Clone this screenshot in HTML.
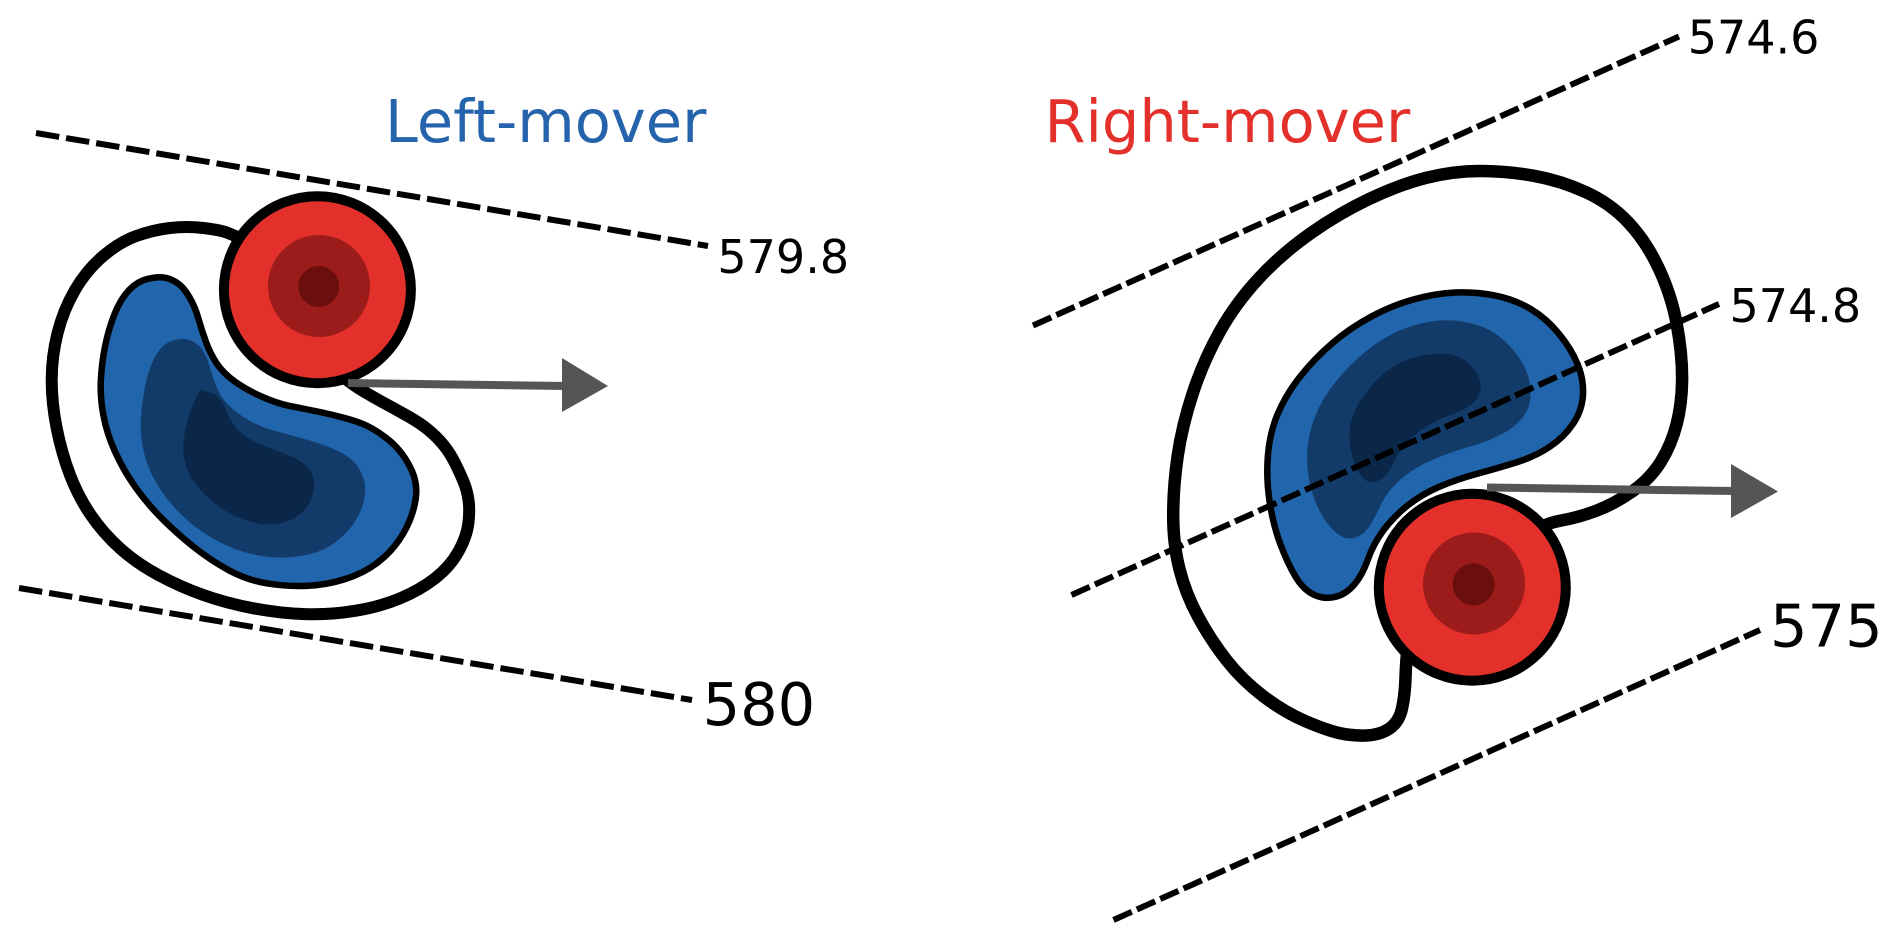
<!DOCTYPE html>
<html>
<head>
<meta charset="utf-8">
<style>
  html, body { margin: 0; padding: 0; background: #ffffff; }
  body { width: 1892px; height: 941px; overflow: hidden; }
  svg { display: block; }
  text { font-family: "DejaVu Sans", "Liberation Sans", sans-serif; }
</style>
</head>
<body>
<svg width="1892" height="941" viewBox="0 0 1892 941">
  <rect x="0" y="0" width="1892" height="941" fill="#ffffff"/>

  <!-- ================= LEFT PANEL ================= -->
  <path fill="none" stroke="#000" stroke-width="12" stroke-linejoin="round" stroke-linecap="round"
    d="M255,245 L244,240 Q233.3,235 226.65,232.5 Q220,230 203.35,228 Q186.7,226 170,228 Q153.3,230 136.65,235.85 Q120,241.7 103.35,255.85 Q86.7,270 75,290 Q63.3,310 57.5,333.35 Q51.7,356.7 51.7,380 Q51.7,403.3 56.7,428.3 Q61.7,453.3 70,475 Q78.3,496.7 90.8,515 Q103.3,533.3 120,548.3 Q136.7,563.3 158.35,575 Q180,586.7 203.35,595 Q226.7,603.3 253.35,608.3 Q280,613.3 305,614.15 Q330,615 355,610.85 Q380,606.7 400,598.35 Q420,590 435,578.35 Q450,566.7 458.35,551.7 Q466.7,536.7 468.35,523.35 Q470,510 468.5,500 Q467,490 463.5,481.5 Q460,473 455,463 Q450,453 443.5,445 Q437,437 428.5,430 Q420,423 408.5,416.5 Q397,410 385,403.5 Q373,397 363,391 Q353,385 344,377.5 L335,370"/>

  <path fill="#2166ac" stroke="#000" stroke-width="6.5" stroke-linejoin="round"
    d="M163.35,277.5 Q156.7,276.7 146.7,279.2 Q136.7,281.7 128.35,290.85 Q120,300 114.15,315 Q108.3,330 105,346.65 Q101.7,363.3 100.85,380 Q100,396.7 103.35,415 Q106.7,433.3 115,451.65 Q123.3,470 135,486.65 Q146.7,503.3 161.7,518.3 Q176.7,533.3 193.35,546.65 Q210,560 228.35,570 Q246.7,580 266.7,583.35 Q286.7,586.7 306.7,585.85 Q326.7,585 345,579.15 Q363.3,573.3 376.65,563.3 Q390,553.3 399,540.15 Q408,527 412.25,513.5 Q416.5,500 416.25,490 Q416,480 412,471 Q408,462 402.5,454.5 Q397,447 390,441 Q383,435 373,429 Q363,423 346.5,418.5 Q330,414 315,411 Q300,408 288.35,405.65 Q276.7,403.3 261.7,396.65 Q246.7,390 235,381.65 Q223.3,373.3 216.65,363.3 Q210,353.3 205.85,341.65 Q201.7,330 198.35,318.35 Q195,306.7 189.15,296.7 Q183.3,286.7 176.65,282.5 Q170,278.3 163.35,277.5 Z"/>

  <path fill="#123b6a"
    d="M185,339.15 Q176.7,338.3 168.35,342.5 Q160,346.7 154.15,358.35 Q148.3,370 145,386.65 Q141.7,403.3 140.85,420 Q140,436.7 144.15,453.35 Q148.3,470 157.5,485 Q166.7,500 180,513.35 Q193.3,526.7 210,536.7 Q226.7,546.7 243.35,551.7 Q260,556.7 276.65,557.5 Q293.3,558.3 310,554.15 Q326.7,550 338.35,540 Q350,530 356,520 Q362,510 364,500 Q366,490 364.5,482.5 Q363,475 359,468.5 Q355,462 349,457.5 Q343,453 331.5,448.15 Q320,443.3 305,439.15 Q290,435 275,430.85 Q260,426.7 248.35,420 Q236.7,413.3 228.35,405 Q220,396.7 215.85,385 Q211.7,373.3 208.35,362.5 Q205,351.7 199.15,345.85 Q193.3,340 185,339.15 Z"/>

  <path fill="#0a274a"
    d="M200,390 L195,400 Q190,410 186.65,423.35 Q183.3,436.7 183.3,448.35 Q183.3,460 188.3,471.65 Q193.3,483.3 203.3,493.3 Q213.3,503.3 225,510.8 Q236.7,518.3 250,521.65 Q263.3,525 275,524.15 Q286.7,523.3 296.7,516.65 Q306.7,510 310.85,500 Q315,490 314.15,481.65 Q313.3,473.3 306.65,466.65 Q300,460 290,455.85 Q280,451.7 268.35,447.5 Q256.7,443.3 248.35,438.3 Q240,433.3 234.15,425 Q228.3,416.7 225.8,410 Q223.3,403.3 219.15,398.3 Q215,393.3 207.5,391.65 Z"/>

  <!-- red circle -->
  <circle cx="317.4" cy="289.7" r="93.5" fill="#e3302a" stroke="#000" stroke-width="10"/>
  <circle cx="319" cy="286" r="51" fill="#9b1c1a"/>
  <circle cx="318.7" cy="286.5" r="20.5" fill="#6b0f0e"/>

  <!-- arrow -->
  <line x1="348" y1="383" x2="566" y2="386" stroke="#555555" stroke-width="8"/>
  <polygon points="562,358 608,386 562,412" fill="#555555"/>

  <!-- dashed isolines -->
  <line x1="36" y1="133" x2="708" y2="246" stroke="#000" stroke-width="6" stroke-dasharray="23.5 7"/>
  <line x1="19" y1="588" x2="692" y2="700" stroke="#000" stroke-width="6" stroke-dasharray="23.5 7"/>

  <text x="385" y="142" font-size="59" fill="#2563ac">Left-mover</text>
  <text x="717.4" y="273" font-size="46" fill="#000">579.8</text>
  <text x="702.6" y="725" font-size="59" fill="#000">580</text>

  <!-- ================= RIGHT PANEL ================= -->
  <path fill="none" stroke="#000" stroke-width="12.5" stroke-linejoin="round" stroke-linecap="round"
    d="M1410,630 L1408,645 Q1406,660 1405.5,677.5 Q1405,695 1402,708.5 Q1399,722 1389.5,728.5 Q1380,735 1366,735.5 Q1352,736 1339,733 Q1326,730 1305,721 Q1284,712 1263,696 Q1242,680 1226.35,659.95 Q1210.7,639.9 1198.2,616.9 Q1185.7,593.9 1179.45,569.05 Q1173.2,544.2 1173.2,515.5 Q1173.2,486.8 1177.65,456.15 Q1182.1,425.5 1192.85,393 Q1203.6,360.5 1219.65,331.8 Q1235.7,303.1 1258.9,278.2 Q1282.1,253.3 1310.7,233.2 Q1339.3,213.1 1369.65,198.75 Q1400,184.4 1426.8,177.7 Q1453.6,171 1480.35,171 Q1507.1,171 1533.9,175.8 Q1560.7,180.6 1585.7,192.1 Q1610.7,203.6 1628.55,222.7 Q1646.4,241.8 1658.9,268.6 Q1671.4,295.4 1676.75,324.1 Q1682.1,352.8 1682.1,377.7 Q1682.1,402.6 1676.75,423.65 Q1671.4,444.7 1660.7,461.9 Q1650,479.1 1632.15,491.55 Q1614.3,504 1596.45,510.7 Q1578.6,517.4 1562.5,520.25 Q1546.4,523.1 1538.2,529.05 L1530,535"/>

  <path fill="#2166ac" stroke="#000" stroke-width="6.5" stroke-linejoin="round"
    d="M1494.65,295.45 Q1475,291.6 1455.35,292.55 Q1435.7,293.5 1414.3,299.25 Q1392.9,305 1371.45,316.5 Q1350,328 1332.15,343.3 Q1314.3,358.6 1300,376.75 Q1285.7,394.9 1277.65,414.05 Q1269.6,433.2 1267.85,456.15 Q1266.1,479.1 1269.65,502.05 Q1273.2,525 1280.35,544.15 Q1287.5,563.3 1295.55,576.7 Q1303.6,590.1 1314.3,594.9 Q1325,599.7 1335.7,596.8 Q1346.4,593.9 1354.45,584.35 Q1362.5,574.8 1367.85,559.5 Q1373.2,544.2 1383.05,530.8 Q1392.9,517.4 1407.15,505.9 Q1421.4,494.4 1439.25,486.75 Q1457.1,479.1 1478.55,473.35 Q1500,467.6 1517.85,461.9 Q1535.7,456.2 1550,446.6 Q1564.3,437 1573.2,423.6 Q1582.1,410.2 1583,394.9 Q1583.9,379.6 1577.65,364.3 Q1571.4,349 1558.9,333.7 Q1546.4,318.4 1530.35,308.85 Q1514.3,299.3 1494.65,295.45 Z"/>

  <path fill="#123b6a"
    d="M1466.05,322.2 Q1446.4,318.4 1426.75,322.2 Q1407.1,326 1389.25,335.6 Q1371.4,345.2 1355.35,360.5 Q1339.3,375.8 1328.6,391.1 Q1317.9,406.4 1312.5,423.65 Q1307.1,440.9 1307.1,458.1 Q1307.1,475.3 1311.6,490.6 Q1316.1,505.9 1323.25,517.4 Q1330.4,528.9 1338.4,534.65 Q1346.4,540.4 1355.35,537.5 Q1364.3,534.6 1369.65,526 Q1375,517.4 1381.25,504 Q1387.5,490.6 1400.9,479.1 Q1414.3,467.6 1432.15,459.95 Q1450,452.3 1469.65,446.6 Q1489.3,440.9 1503.6,433.2 Q1517.9,425.5 1525,414.05 Q1532.1,402.6 1530.35,387.3 Q1528.6,372 1519.65,358.6 Q1510.7,345.2 1498.2,335.6 Q1485.7,326 1466.05,322.2 Z"/>

  <path fill="#0a274a"
    d="M1446.4,353.75 Q1435.7,352.8 1417.85,356.65 Q1400,360.5 1385.7,372 Q1371.4,383.5 1361.6,398.8 Q1351.8,414.1 1350,427.5 Q1348.2,440.9 1351.8,454.25 Q1355.4,467.6 1359.85,474.3 Q1364.3,481 1369.65,482 Q1375,483 1381.25,479.15 Q1387.5,475.3 1391.95,465.75 Q1396.4,456.2 1401.75,448.55 Q1407.1,440.9 1419.6,431.3 Q1432.1,421.7 1448.2,415.95 Q1464.3,410.2 1471.45,404.5 Q1478.6,398.8 1480.35,391.15 Q1482.1,383.5 1477.65,374.85 Q1473.2,366.2 1465.15,360.45 Q1457.1,354.7 1446.4,353.75 Z"/>

  <!-- dashed isolines -->
  <line x1="1033" y1="325.5" x2="1679" y2="36.5" stroke="#000" stroke-width="6" stroke-dasharray="20 5.6"/>
  <line x1="1071.5" y1="595" x2="1719" y2="304" stroke="#000" stroke-width="6" stroke-dasharray="20 5.6"/>
  <line x1="1113.5" y1="920" x2="1760" y2="630" stroke="#000" stroke-width="6" stroke-dasharray="20 5.6"/>

  <!-- red circle -->
  <circle cx="1472.3" cy="587.2" r="93.5" fill="#e3302a" stroke="#000" stroke-width="10"/>
  <circle cx="1474" cy="583.5" r="51" fill="#9b1c1a"/>
  <circle cx="1473.6" cy="584.4" r="21" fill="#6b0f0e"/>

  <!-- arrow -->
  <line x1="1487" y1="487.5" x2="1735" y2="491" stroke="#555555" stroke-width="8"/>
  <polygon points="1731,464 1778,491.5 1731,518" fill="#555555"/>

  <text x="1044.5" y="142" font-size="59" fill="#e3302a">Right-mover</text>
  <text x="1687.7" y="53.5" font-size="46" fill="#000">574.6</text>
  <text x="1729.5" y="322" font-size="46" fill="#000">574.8</text>
  <text x="1770" y="646.5" font-size="59" fill="#000">575</text>
</svg>
</body>
</html>
